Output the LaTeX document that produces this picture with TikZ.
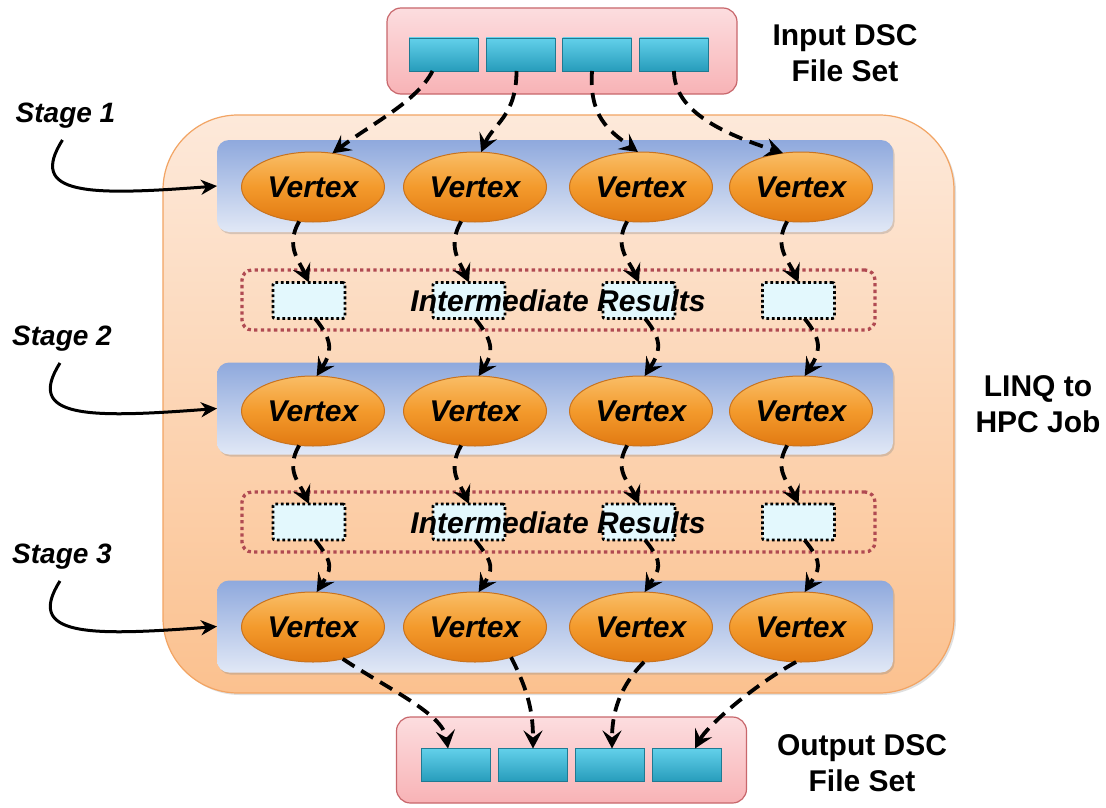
\documentclass[tikz,border=0pt]{standalone}
\usepackage{fontspec}
\setmainfont{Liberation Sans}
\usetikzlibrary{arrows.meta,calc,shadows,shapes.geometric}

\definecolor{jobtop}{HTML}{FDE9DA}
\definecolor{jobbot}{HTML}{FBC18F}
\definecolor{jobline}{HTML}{F2A463}
\definecolor{paneltop}{HTML}{8FA9DD}
\definecolor{panelbot}{HTML}{E1E8F6}
\definecolor{vtop}{HTML}{F9BD66}
\definecolor{vmid}{HTML}{F39A2C}
\definecolor{vbot}{HTML}{E27A12}
\definecolor{vline}{HTML}{C9731E}
\definecolor{settop}{HTML}{FCDDDF}
\definecolor{setbot}{HTML}{F8B3B6}
\definecolor{setline}{HTML}{C8676C}
\definecolor{filetop}{HTML}{62D0EA}
\definecolor{filebot}{HTML}{279CBB}
\definecolor{fileline}{HTML}{1F7A92}
\definecolor{irline}{HTML}{B04A52}
\definecolor{tmpfill}{HTML}{E3F8FD}

\begin{document}
\begin{tikzpicture}[x=1pt,y=-1pt,
  every node/.style={inner sep=0pt,outer sep=0pt},
  job/.style={draw=jobline, line width=1.2pt, rounded corners=75pt,
    top color=jobtop, bottom color=jobbot,
    minimum width=791pt, minimum height=578pt,
    drop shadow={opacity=0.25,shadow xshift=2pt,shadow yshift=-2pt}},
  stagepanel/.style={rounded corners=12pt, top color=paneltop, bottom color=panelbot,
    minimum width=676pt, minimum height=92pt,
    drop shadow={opacity=0.3,shadow xshift=1.5pt,shadow yshift=-2pt}},
  vertex/.style={ellipse, draw=vline, line width=1pt,
    top color=vtop, bottom color=vbot, middle color=vmid,
    minimum width=143pt, minimum height=70pt,
    font=\fontsize{30}{36}\selectfont\bfseries\itshape},
  fileset/.style={draw=setline, line width=1.2pt, rounded corners=14pt,
    top color=settop, bottom color=setbot,
    minimum width=350pt, minimum height=86pt},
  dscfile/.style={draw=fileline, line width=0.8pt, top color=filetop, bottom color=filebot,
    minimum width=69pt, minimum height=33pt},
  irframe/.style={draw=irline, line width=3.3pt, dash pattern=on 3.3pt off 3.3pt,
    rounded corners=10pt, minimum width=633pt, minimum height=60pt},
  tmpbox/.style={draw=black, line width=2.8pt, dash pattern=on 2.8pt off 2.6pt,
    fill=tmpfill, rounded corners=2pt, minimum width=72pt, minimum height=36pt},
  irtext/.style={font=\fontsize{30}{36}\selectfont\bfseries\itshape},
  flow/.style={line width=3.8pt, dash pattern=on 14pt off 8pt,
    -{Stealth[length=18pt,width=19pt,inset=7pt]}},
  stagearrow/.style={line width=3pt, -{Stealth[length=16pt,width=15pt,inset=5pt]}},
  sidelabel/.style={font=\fontsize{30}{36}\selectfont\bfseries, align=center},
  stagelabel/.style={font=\fontsize{28}{34}\selectfont\bfseries\itshape, anchor=base}
]
\fill[white] (0,0) rectangle (1106,808);
\useasboundingbox (0,0) rectangle (1106,808);

% job container and stage panels
\node[job] (job) at (558.5,404) {};
\node[stagepanel] (s1) at (555,186) {};
\node[stagepanel] (s2) at (555,408.5) {};
\node[stagepanel] (s3) at (555,626.5) {};

% intermediate result frames
\node[irframe] (ir1) at (558.5,300) {};
\node[irframe] (ir2) at (558.5,522) {};
\foreach \x [count=\j] in {309,469,639,798.5} {
  \node[tmpbox] (m1\j) at (\x,300.5) {};
  \node[tmpbox] (m2\j) at (\x,522) {};
}
\node[irtext] (irt1) at (558,301) {Intermediate Results};
\node[irtext] (irt2) at (558,523) {Intermediate Results};

% vertices
\foreach \x [count=\j] in {313,475,641,801} {
  \node[vertex] (v1\j) at (\x,187) {Vertex};
  \node[vertex] (v2\j) at (\x,411) {Vertex};
  \node[vertex] (v3\j) at (\x,627) {Vertex};
}

% input and output file sets
\node[fileset] (inbox) at (562,51) {};
\foreach \x [count=\j] in {443.5,520.5,597,674}
  \node[dscfile] (in\j) at (\x,54.5) {};
\node[fileset] (outbox) at (571.5,760) {};
\foreach \x [count=\j] in {456,533,610,687}
  \node[dscfile] (out\j) at (\x,765) {};

% side labels
\node[sidelabel] (intext) at (845,53) {Input DSC\\File Set};
\node[sidelabel] (outtext) at (862,763) {Output DSC\\File Set};
\node[sidelabel] (jobtext) at (1038,404) {LINQ to\\HPC Job};

\node[stagelabel] (st1) at (65.5,122) {Stage 1};
\node[stagelabel] (st2) at (62,345) {Stage 2};
\node[stagelabel] (st3) at (62,563) {Stage 3};

\draw[stagearrow] ($(st1.base)+(-3,18)$) .. controls +(-35,55) and +(-130,10) .. (s1.west);
\draw[stagearrow] ($(st2.base)+(-2,18)$) .. controls +(-35,55) and +(-130,10) .. (s2.west);
\draw[stagearrow] ($(st3.base)+(-2,18)$) .. controls +(-35,55) and +(-130,10) .. (s3.west);

% input files to stage 1
\draw[flow] ($(in1.south)+(-11,0)$) .. controls +(-15,30) and +(40,-30) .. (v11.60);
\draw[flow] ($(in2.south)+(-4,0)$) .. controls +(0,45) and +(12,-28) .. (v12.80);
\draw[flow] ($(in3.south)+(-5,0)$) .. controls +(-3,45) and +(-30,-22) .. (v13.95);
\draw[flow] (in4.south) .. controls +(0,42) and +(-55,-18) .. (v14.118);

% stage to intermediate results and on to the next stage
\foreach \j in {1,2,3,4} {
  \draw[flow] (v1\j.-112) .. controls +(-14,25) and +(-10,-22) .. (m1\j.north);
  \draw[flow] ($(m1\j.south)+(6,0)$) .. controls +(20,24) and +(14,-22) .. (v2\j.84);
  \draw[flow] (v2\j.-112) .. controls +(-14,25) and +(-10,-22) .. (m2\j.north);
  \draw[flow] ($(m2\j.south)+(6,0)$) .. controls +(20,24) and +(14,-22) .. (v3\j.84);
}

% stage 3 to output files
\draw[flow] (v31.-47) .. controls +(45,30) and +(-5,-35) .. ($(out1.north)+(-8,0)$);
\draw[flow] (v32.-40) .. controls +(18,35) and +(0,-35) .. (out2.north);
\draw[flow] (v33.-85) .. controls +(-25,25) and +(0,-35) .. ($(out3.north)+(2,0)$);
\draw[flow] (v34.-98) .. controls +(-45,25) and +(12,-22) .. ($(out4.north)+(8,0)$);
\end{tikzpicture}
\end{document}
